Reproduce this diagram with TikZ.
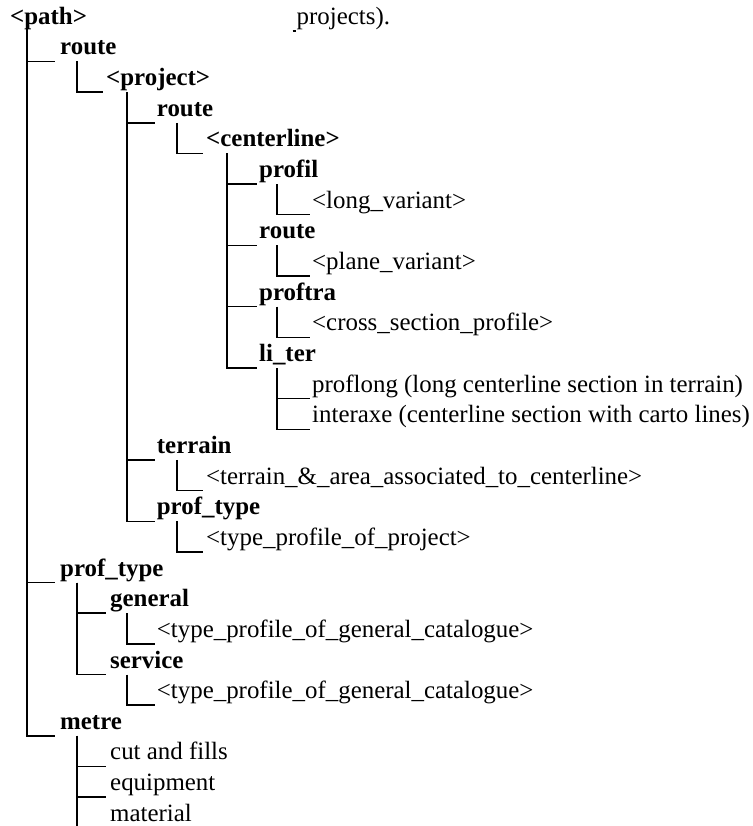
\documentclass[tikz,border=0pt]{standalone}
\usepackage{fontspec}
\setmainfont{Liberation Serif}
% elbow connector: down from a branch point, then right to a label
\newcommand\twig[3]{\draw[branch] (#1) |- ([shift={(#3,6.5)}]#2.base west);}
\begin{document}
\begin{tikzpicture}[x=1pt,y=-1pt,
  every node/.style={inner sep=0pt, anchor=base west,
    font=\fontsize{24.9}{30}\selectfont},
  key/.style={font=\fontsize{24.9}{30}\selectfont\bfseries},
  branch/.style={line width=1.5pt}]
\useasboundingbox (0,0) rectangle (752,826);

% labels
\node[key] (path) at (10,24.35) {<path>};
\node (tail) at (296.5,24.35) {projects).};
\draw[line width=1.2pt] (292.5,31) -- (295.5,31);

\node[key] (route) at (60,55) {route};
\node[key] (project) at (106,85.65) {<project>};
\node[key] (proute) at (156.7,116.3) {route};
\node[key] (centerline) at (206,146.95) {<centerline>};
\node[key] (profil) at (259,177.6) {profil};
\node (longvar) at (312,208.25) {<long\_variant>};
\node[key] (croute) at (259,238.9) {route};
\node (planevar) at (312,269.55) {<plane\_variant>};
\node[key] (proftra) at (259,300.2) {proftra};
\node (crosssec) at (312,330.85) {<cross\_section\_profile>};
\node[key] (liter) at (259,361.5) {li\_ter};
\node (proflong) at (312,392.15) {proflong (long centerline section in terrain)};
\node (interaxe) at (312,422.8) {interaxe (centerline section with carto lines)};
\node[key] (terrain) at (156.7,453.45) {terrain};
\node (terrarea) at (206,484.1) {<terrain\_\&\_area\_associated\_to\_centerline>};
\node[key] (ptproj) at (156.7,514.75) {prof\_type};
\node (typeproj) at (206,545.4) {<type\_profile\_of\_project>};
\node[key] (proftype) at (60,576.05) {prof\_type};
\node[key] (general) at (110,606.7) {general};
\node (typegen) at (156.7,637.35) {<type\_profile\_of\_general\_catalogue>};
\node[key] (service) at (110,668) {service};
\node (typeserv) at (156.7,698.65) {<type\_profile\_of\_general\_catalogue>};
\node[key] (metre) at (60,729.3) {metre};
\node (cutfill) at (110,759.95) {cut and fills};
\node (equip) at (110,790.6) {equipment};
\node (material) at (110,821.25) {material};

% branch points
\coordinate (path-v) at (27,29);
\coordinate (route-v) at (77,61.5);
\coordinate (project-v) at (127,92.15);
\coordinate (proute-v) at (177,122.8);
\coordinate (centerline-v) at (227,153.45);
\coordinate (profil-v) at (277,184.1);
\coordinate (croute-v) at (277,245.4);
\coordinate (proftra-v) at (277,306.7);
\coordinate (liter-v) at (277,368);
\coordinate (terrain-v) at (177,459.95);
\coordinate (ptproj-v) at (177,521.25);
\coordinate (proftype-v) at (77,582.55);
\coordinate (general-v) at (127,613.2);
\coordinate (service-v) at (127,674.5);
\coordinate (metre-v) at (77,735.8);

% tree connectors
\twig{path-v}{route}{-5}
\twig{path-v}{proftype}{-5}
\twig{path-v}{metre}{-5}
\twig{route-v}{project}{-3}
\twig{project-v}{proute}{-2}
\twig{project-v}{terrain}{-2}
\twig{project-v}{ptproj}{-2}
\twig{proute-v}{centerline}{-3}
\twig{centerline-v}{profil}{-2}
\twig{centerline-v}{croute}{-2}
\twig{centerline-v}{proftra}{-2}
\twig{centerline-v}{liter}{-2}
\twig{profil-v}{longvar}{-2}
\twig{croute-v}{planevar}{-2}
\twig{proftra-v}{crosssec}{-2}
\twig{liter-v}{proflong}{-2}
\twig{liter-v}{interaxe}{-2}
\twig{terrain-v}{terrarea}{-3}
\twig{ptproj-v}{typeproj}{-3}
\twig{proftype-v}{general}{-4}
\twig{proftype-v}{service}{-4}
\twig{general-v}{typegen}{-2}
\twig{service-v}{typeserv}{-2}
\twig{metre-v}{cutfill}{-4}
\twig{metre-v}{equip}{-4}
\twig{metre-v}{material}{-4}
\end{tikzpicture}
\end{document}
